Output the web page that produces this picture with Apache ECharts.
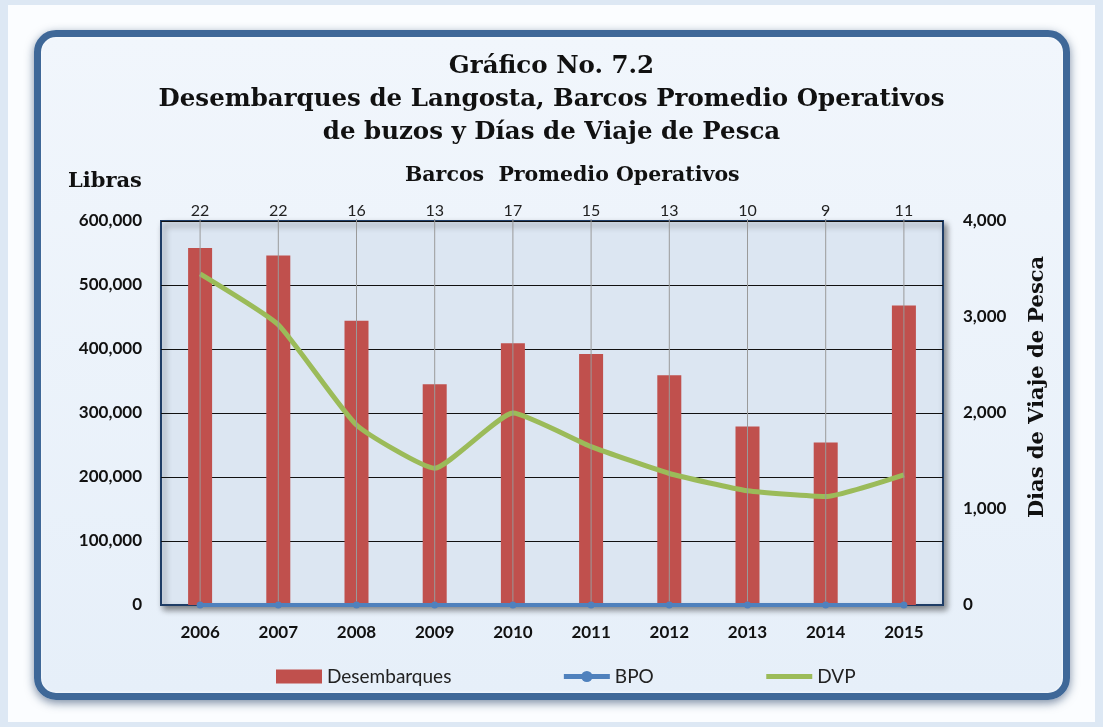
<!DOCTYPE html>
<html>
<head>
<meta charset="utf-8">
<script src="https://cdn.jsdelivr.net/npm/echarts@6/dist/echarts.min.js"></script>
<style>
  html,body{margin:0;padding:0;width:1103px;height:727px;background:#dde8f4;overflow:hidden;}
  #paper{position:absolute;left:8px;top:5px;width:1087px;height:717px;background:#fbfdff;}
  #frame{position:absolute;left:34px;top:30px;width:1022px;height:656px;border:7px solid #3f6898;border-radius:22px;
    background:linear-gradient(#f1f6fc,#e6eff9);box-shadow:0 3px 10px rgba(20,50,90,0.55), inset 0 0 3px rgba(255,255,255,0.9);}
  #chart{position:absolute;left:0;top:0;width:1103px;height:727px;}
</style>
</head>
<body>
<div id="paper"></div>
<div id="frame"></div>
<div id="chart"></div>
<script>
const years = ['2006','2007','2008','2009','2010','2011','2012','2013','2014','2015'];
const desembarques = [558000, 546000, 444000, 345000, 409000, 392000, 359000, 279000, 254000, 468000];
const bpo = [22, 22, 16, 13, 17, 15, 13, 10, 9, 11];
const dvp = [3450, 2920, 1875, 1425, 2000, 1650, 1370, 1190, 1130, 1355];
const leftTicks = {min: 0, max: 600000, interval: 100000};
const rightTicks = {min: 0, max: 4000, interval: 1000};

const fmt = v => v.toLocaleString('en-US');
const chart = echarts.init(document.getElementById('chart'), null, {renderer: 'canvas'});
const serif = '"DejaVu Serif", "Liberation Serif", serif';
const sans = 'Lato, "Open Sans", sans-serif';

chart.setOption({
  backgroundColor: 'transparent',
  animation: false,
  title: {
    text: 'Gráfico No. 7.2\nDesembarques de Langosta, Barcos Promedio Operativos\nde buzos y Días de Viaje de Pesca',
    left: 'center', top: 45,
    textStyle: {fontFamily: serif, fontWeight: 'bold', fontSize: 24.5, lineHeight: 33, color: '#111'}
  },
  graphic: [
    {type: 'text', left: 68, top: 171, style: {text: 'Libras', font: 'bold 21px ' + serif, fill: '#111'}},
    {type: 'text', left: 405, top: 165, style: {text: 'Barcos  Promedio Operativos', font: 'bold 20.5px ' + serif, fill: '#111'}},
    {type: 'text', x: 1038, y: 387, rotation: Math.PI / 2,
      style: {text: 'Dias de Viaje de Pesca', font: 'bold 21px ' + serif, fill: '#111', align: 'center', verticalAlign: 'middle'}}
  ],
  legend: {
    bottom: 36, left: 271, itemGap: 110, itemWidth: 46, itemHeight: 14,
    textStyle: {fontFamily: sans, fontSize: 19, color: '#222'},
    data: [
      {name: 'Desembarques', icon: 'rect'},
      {name: 'BPO', lineStyle: {width: 5}},
      {name: 'DVP', lineStyle: {width: 5}, itemStyle: {opacity: 0}}
    ]
  },
  grid: {
    left: 161, right: 160, top: 221, bottom: 122, show: true,
    backgroundColor: '#dce6f2', borderColor: '#1f3d66', borderWidth: 2,
    shadowColor: 'rgba(0,0,0,0.45)', shadowBlur: 6, shadowOffsetX: 3, shadowOffsetY: 4
  },
  xAxis: {
    type: 'category', data: years,
    axisLine: {show: true, lineStyle: {color: '#1f3d66', width: 2}},
    axisTick: {show: false},
    axisLabel: {fontFamily: sans, fontWeight: 'bold', fontSize: 17, color: '#111', margin: 19}
  },
  yAxis: [
    {
      type: 'value', min: leftTicks.min, max: leftTicks.max, interval: leftTicks.interval,
      axisLine: {show: false}, axisTick: {show: false},
      axisLabel: {fontFamily: sans, fontWeight: 'bold', fontSize: 17, color: '#111', margin: 19, formatter: fmt},
      splitLine: {show: true, lineStyle: {color: '#111', width: 1}}
    },
    {
      type: 'value', min: rightTicks.min, max: rightTicks.max, interval: rightTicks.interval, position: 'right',
      axisLine: {show: false}, axisTick: {show: false},
      axisLabel: {fontFamily: sans, fontWeight: 'bold', fontSize: 17, color: '#111', margin: 20, formatter: fmt},
      splitLine: {show: false}
    }
  ],
  series: [
    {
      name: 'Desembarques', type: 'bar', yAxisIndex: 0, data: desembarques, barWidth: 24,
      itemStyle: {color: '#c0504d'}
    },
    {
      name: 'BPO', type: 'line', yAxisIndex: 0, data: bpo, z: 5,
      symbol: 'circle', symbolSize: 7,
      lineStyle: {color: '#4f81bd', width: 4}, itemStyle: {color: '#4f81bd'},
      label: {show: true, position: 'top', fontFamily: sans, fontSize: 16, color: '#222'},
      labelLayout: function (p) {
        return {x: p.rect.x + p.rect.width / 2, y: 203, align: 'center', verticalAlign: 'top'};
      },
      labelLine: {show: true, lineStyle: {color: '#9a9a9a', width: 1}}
    },
    {
      name: 'DVP', type: 'line', yAxisIndex: 1, data: dvp, smooth: 0.15, z: 4,
      symbol: 'none',
      lineStyle: {color: '#9bbb59', width: 5}, itemStyle: {color: '#9bbb59'}
    }
  ]
});
</script>
</body>
</html>
